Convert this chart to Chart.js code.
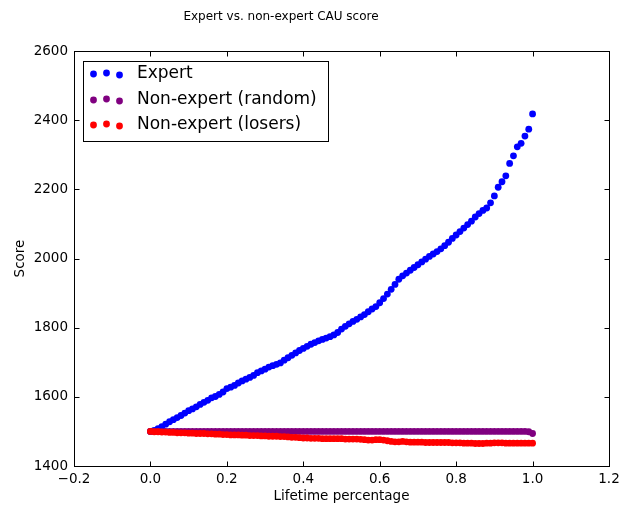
<!DOCTYPE html>
<html>
<head>
<meta charset="utf-8">
<title>Expert vs. non-expert CAU score</title>
<script src="https://cdn.jsdelivr.net/npm/chart.js@4.4.1/dist/chart.umd.min.js"></script>
<style>
  html, body { margin: 0; padding: 0; background: #fff; }
  canvas { display: block; }
</style>
</head>
<body>
<canvas id="scoreChart" width="620" height="508"></canvas>
<script>
// lifetime percentage of each sample
const lifetime = [
  0.00, 0.01, 0.02, 0.03, 0.04, 0.05, 0.06, 0.07, 0.08, 0.09,
  0.10, 0.11, 0.12, 0.13, 0.14, 0.15, 0.16, 0.17, 0.18, 0.19,
  0.20, 0.21, 0.22, 0.23, 0.24, 0.25, 0.26, 0.27, 0.28, 0.29,
  0.30, 0.31, 0.32, 0.33, 0.34, 0.35, 0.36, 0.37, 0.38, 0.39,
  0.40, 0.41, 0.42, 0.43, 0.44, 0.45, 0.46, 0.47, 0.48, 0.49,
  0.50, 0.51, 0.52, 0.53, 0.54, 0.55, 0.56, 0.57, 0.58, 0.59,
  0.60, 0.61, 0.62, 0.63, 0.64, 0.65, 0.66, 0.67, 0.68, 0.69,
  0.70, 0.71, 0.72, 0.73, 0.74, 0.75, 0.76, 0.77, 0.78, 0.79,
  0.80, 0.81, 0.82, 0.83, 0.84, 0.85, 0.86, 0.87, 0.88, 0.89,
  0.90, 0.91, 0.92, 0.93, 0.94, 0.95, 0.96, 0.97, 0.98, 0.99,
  1.00
];

const expertScore = [
  1500, 1503, 1508, 1514, 1521, 1528, 1534, 1540, 1546, 1553,
  1560, 1565, 1571, 1578, 1584, 1590, 1597, 1601, 1607, 1614,
  1624, 1628, 1633, 1640, 1646, 1651, 1656, 1662, 1670, 1675,
  1680, 1686, 1690, 1694, 1698, 1706, 1713, 1720, 1727, 1734,
  1740, 1746, 1752, 1757, 1762, 1766, 1770, 1774, 1779, 1786,
  1796, 1804, 1811, 1818, 1824, 1831, 1838, 1846, 1854, 1861,
  1872, 1884, 1897, 1911, 1925, 1940, 1950, 1958, 1966, 1974,
  1982, 1990, 1998, 2006, 2013, 2020, 2028, 2037, 2047, 2058,
  2068, 2078, 2088, 2098, 2108, 2120, 2130, 2139, 2146, 2161,
  2181, 2206, 2222, 2239, 2275, 2297, 2323, 2333, 2354, 2374,
  2418
];

const randomScore = [
  1500, 1500, 1500, 1500, 1500, 1500, 1500, 1500, 1500, 1500,
  1500, 1500, 1500, 1500, 1500, 1500, 1500, 1500, 1500, 1500,
  1500, 1500, 1500, 1500, 1500, 1500, 1500, 1500, 1500, 1500,
  1500, 1500, 1500, 1500, 1500, 1500, 1500, 1500, 1500, 1500,
  1500, 1500, 1500, 1500, 1500, 1500, 1500, 1500, 1500, 1500,
  1500, 1500, 1500, 1500, 1500, 1500, 1500, 1500, 1500, 1500,
  1500, 1500, 1500, 1500, 1500, 1500, 1500, 1500, 1500, 1500,
  1500, 1500, 1500, 1500, 1500, 1500, 1500, 1500, 1500, 1500,
  1500, 1500, 1500, 1500, 1500, 1500, 1500, 1500, 1500, 1500,
  1500, 1500, 1500, 1500, 1500, 1500, 1500, 1500, 1500, 1499,
  1494
];

const loserScore = [
  1500, 1499, 1499, 1498, 1498, 1497, 1497, 1496, 1496, 1496,
  1495, 1495, 1494, 1494, 1494, 1493, 1493, 1492, 1492, 1491,
  1491, 1490, 1490, 1490, 1489, 1489, 1488, 1488, 1488, 1487,
  1487, 1486, 1486, 1486, 1485, 1485, 1484, 1483, 1483, 1482,
  1481, 1481, 1480, 1480, 1480, 1479, 1479, 1479, 1479, 1479,
  1479, 1478, 1478, 1478, 1478, 1477, 1476, 1475, 1475, 1476,
  1476, 1475, 1473, 1471, 1470, 1470, 1471, 1470, 1469, 1469,
  1469, 1469, 1468, 1468, 1468, 1468, 1468, 1468, 1468, 1467,
  1467, 1467, 1466, 1466, 1466, 1465, 1465, 1465, 1466, 1466,
  1467, 1467, 1467, 1466, 1466, 1466, 1466, 1466, 1466, 1466,
  1466
];

const seriesNames = ["Expert", "Non-expert (random)", "Non-expert (losers)"];
const xTicks = [-0.2, 0.0, 0.2, 0.4, 0.6, 0.8, 1.0, 1.2];
const yTicks = [1400, 1600, 1800, 2000, 2200, 2400, 2600];

Chart.defaults.font.family = "'DejaVu Sans', sans-serif";
Chart.defaults.color = "#000";

function toPoints(ys) {
  return lifetime.map((x, i) => ({ x: x, y: ys[i] }));
}

// 枠線と内向きの目盛り（上下左右）
const framePlugin = {
  id: "frame",
  afterDatasetsDraw(chart) {
    const { ctx, chartArea: a, scales } = chart;
    const L = Math.round(a.left) + 0.5, R = Math.round(a.right) + 0.5;
    const T = Math.round(a.top) + 0.5, B = Math.round(a.bottom) + 0.5;
    ctx.save();
    ctx.strokeStyle = "#000";
    ctx.lineWidth = 1;
    ctx.strokeRect(L, T, R - L, B - T);
    const len = 5;
    ctx.beginPath();
    scales.x.ticks.forEach(t => {
      const px = Math.round(scales.x.getPixelForValue(t.value)) + 0.5;
      ctx.moveTo(px, B); ctx.lineTo(px, B - len);
      ctx.moveTo(px, T); ctx.lineTo(px, T + len);
    });
    scales.y.ticks.forEach(t => {
      const py = Math.round(scales.y.getPixelForValue(t.value)) + 0.5;
      ctx.moveTo(L, py); ctx.lineTo(L + len, py);
      ctx.moveTo(R, py); ctx.lineTo(R - len, py);
    });
    ctx.stroke();
    ctx.restore();
  }
};

// 凡例（左上、枠付き、各系列3点）
const legendPlugin = {
  id: "boxLegend",
  afterDraw(chart) {
    const { ctx } = chart;
    const box = { x: 83, y: 61, w: 245, h: 80 };
    ctx.save();
    ctx.fillStyle = "#fff";
    ctx.fillRect(box.x, box.y, box.w, box.h);
    ctx.strokeStyle = "#000";
    ctx.lineWidth = 1;
    ctx.strokeRect(box.x + 0.5, box.y + 0.5, box.w, box.h);
    const rowY = [74, 100, 125];
    const dotX = [93.5, 106.5, 119.5];
    const dotDy = [0, -1, 1];
    ctx.font = "17px 'DejaVu Sans', sans-serif";
    ctx.textBaseline = "middle";
    chart.data.datasets.forEach((ds, i) => {
      ctx.fillStyle = ds.backgroundColor;
      dotX.forEach((dx, k) => {
        ctx.beginPath();
        ctx.arc(dx, rowY[i] + dotDy[k], 3.4, 0, Math.PI * 2);
        ctx.fill();
      });
      ctx.fillStyle = "#000";
      ctx.fillText(ds.label, 137, rowY[i]);
    });
    ctx.restore();
  }
};

const titlePlugin = {
  id: "figTitle",
  afterDraw(chart) {
    const { ctx } = chart;
    ctx.save();
    ctx.font = "12px 'DejaVu Sans', sans-serif";
    ctx.fillStyle = "#000";
    ctx.textAlign = "center";
    ctx.textBaseline = "middle";
    ctx.fillText("Expert vs. non-expert CAU score", 281, 17);
    ctx.restore();
  }
};

const ctx = document.getElementById("scoreChart").getContext("2d");
new Chart(ctx, {
  type: "scatter",
  data: {
    datasets: [
      { label: seriesNames[0], data: toPoints(expertScore), backgroundColor: "#0000ff", order: 3 },
      { label: seriesNames[1], data: toPoints(randomScore), backgroundColor: "#800080", order: 2 },
      { label: seriesNames[2], data: toPoints(loserScore), backgroundColor: "#ff0000", order: 1 }
    ]
  },
  options: {
    responsive: false,
    animation: false,
    devicePixelRatio: 1,
    elements: {
      point: { radius: 3.4, borderWidth: 0, hoverRadius: 3.4 }
    },
    layout: { padding: { left: 0, right: 11, top: 51, bottom: 0 } },
    plugins: {
      legend: { display: false },
      title: { display: false },
      tooltip: { enabled: false }
    },
    scales: {
      x: {
        type: "linear",
        min: -0.2,
        max: 1.2,
        afterBuildTicks: s => { s.ticks = xTicks.map(v => ({ value: v })); },
        afterFit: s => { s.height = 42; s.paddingLeft = 0; s.paddingRight = 0; },
        grid: { display: false, drawTicks: false },
        border: { display: false },
        ticks: {
          padding: 5,
          font: { size: 13.5 },
          maxRotation: 0,
          callback: v => v.toFixed(1).replace("-", "\u2212")
        },
        title: {
          display: true,
          text: "Lifetime percentage",
          font: { size: 13.5 },
          padding: { top: 0, bottom: 3 }
        }
      },
      y: {
        type: "linear",
        min: 1400,
        max: 2600,
        afterBuildTicks: s => { s.ticks = yTicks.map(v => ({ value: v })); },
        afterFit: s => { s.width = 74; s.paddingTop = 0; s.paddingBottom = 0; },
        grid: { display: false, drawTicks: false },
        border: { display: false },
        ticks: {
          padding: 6,
          font: { size: 13.5 },
          callback: v => String(v)
        },
        title: {
          display: true,
          text: "Score",
          font: { size: 13.5 },
          padding: { top: 12, bottom: 0 }
        }
      }
    }
  },
  plugins: [framePlugin, legendPlugin, titlePlugin]
});
</script>
</body>
</html>
